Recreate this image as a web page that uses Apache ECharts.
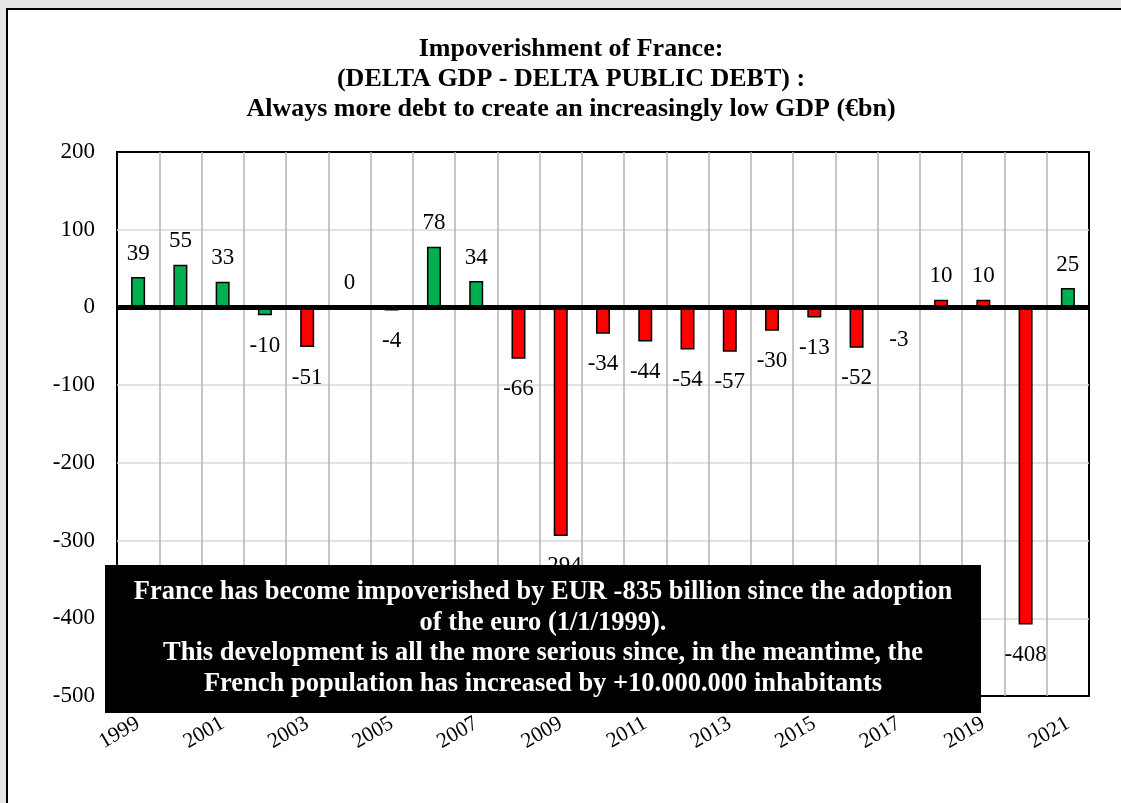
<!DOCTYPE html>
<html>
<head>
<meta charset="utf-8">
<script src="https://cdn.jsdelivr.net/npm/echarts@6/dist/echarts.min.js"></script>
<style>
html,body{margin:0;padding:0;background:#e8e6e6;}
#chart{width:1121px;height:803px;}
</style>
</head>
<body>
<div id="chart"></div>
<script>
const years = ['1999','2000','2001','2002','2003','2004','2005','2006','2007','2008','2009','2010','2011','2012','2013','2014','2015','2016','2017','2018','2019','2020','2021'];
const values = [39, 55, 33, -10, -51, 0, -4, 78, 34, -66, -294, -34, -44, -54, -57, -30, -13, -52, -3, 10, 10, -408, 25];
const colorKeys = ['g','g','g','g','r','g','r','g','g','r','r','r','r','r','r','r','r','r','r','r','r','r','g'];
const yTicks = [-500, -400, -300, -200, -100, 0, 100, 200];
const titleLines = ['Impoverishment of France:', '(DELTA GDP - DELTA PUBLIC DEBT) :', 'Always more debt to create an increasingly low GDP (\u20acbn)'];
const noteLines = ['France has become impoverished by EUR -835 billion since the adoption', 'of the euro (1/1/1999).', 'This development is all the more serious since, in the meantime, the', 'French population has increased by +10.000.000 inhabitants'];

const palette = { g: '#00b050', r: '#ff0000' };
const FONT = '"Liberation Serif", "Times New Roman", serif';

const chart = echarts.init(document.getElementById('chart'));
chart.setOption({
  animation: false,
  backgroundColor: 'transparent',
  title: {
    text: titleLines.join('\n'),
    left: 566,
    textAlign: 'center',
    top: 29,
    textStyle: { fontFamily: FONT, fontWeight: 'bold', fontSize: 26, lineHeight: 30, color: '#000' }
  },
  grid: { left: 117, right: 32, top: 152, bottom: 107, show: true, borderColor: '#000', borderWidth: 2, backgroundColor: '#fff' },
  xAxis: {
    type: 'category',
    data: years,
    axisLine: { show: false },
    axisTick: { show: false },
    splitLine: { show: true, interval: 0, showMinLine: false, showMaxLine: false, lineStyle: { color: '#b3b3b3', width: 1.5 } },
    axisLabel: { interval: 1, rotate: 30, margin: 26, fontFamily: FONT, fontSize: 21.5, color: '#000' }
  },
  yAxis: {
    type: 'value',
    min: yTicks[0],
    max: yTicks[yTicks.length - 1],
    interval: 100,
    axisLine: { show: false },
    axisTick: { show: false },
    splitLine: { showMinLine: false, showMaxLine: false, lineStyle: { color: '#d9d9d9', width: 1.5 } },
    axisLabel: { margin: 22, fontFamily: FONT, fontSize: 23, color: '#000' }
  },
  series: [{
    type: 'bar',
    barWidth: 14,
    data: values.map((v, i) => ({
      value: v,
      itemStyle: { color: palette[colorKeys[i]] },
      label: { position: v < 0 ? 'bottom' : 'top', distance: v < 0 ? 19 : 12 }
    })),
    itemStyle: { borderColor: '#000', borderWidth: 1.5 },
    label: { show: true, fontFamily: FONT, fontSize: 23, color: '#000' },
    markLine: {
      silent: true,
      symbol: 'none',
      label: { show: false },
      lineStyle: { color: '#000', width: 5, type: 'solid' },
      data: [{ yAxis: 0 }]
    }
  }],
  graphic: [
    { type: 'rect', z: -10, silent: true, shape: { x: 7, y: 9, width: 1200, height: 900 }, style: { fill: '#fff', stroke: '#000', lineWidth: 2 } },
    { type: 'rect', z: 100, silent: true, shape: { x: 105, y: 565, width: 876, height: 148 }, style: { fill: '#000' } },
    { type: 'text', z: 101, silent: true, x: 543, y: 638,
      style: { text: noteLines.join('\n'), fill: '#fff', font: 'bold 26.5px ' + FONT, lineHeight: 30.5, textAlign: 'center', textVerticalAlign: 'middle' } }
  ]
});
</script>
</body>
</html>
